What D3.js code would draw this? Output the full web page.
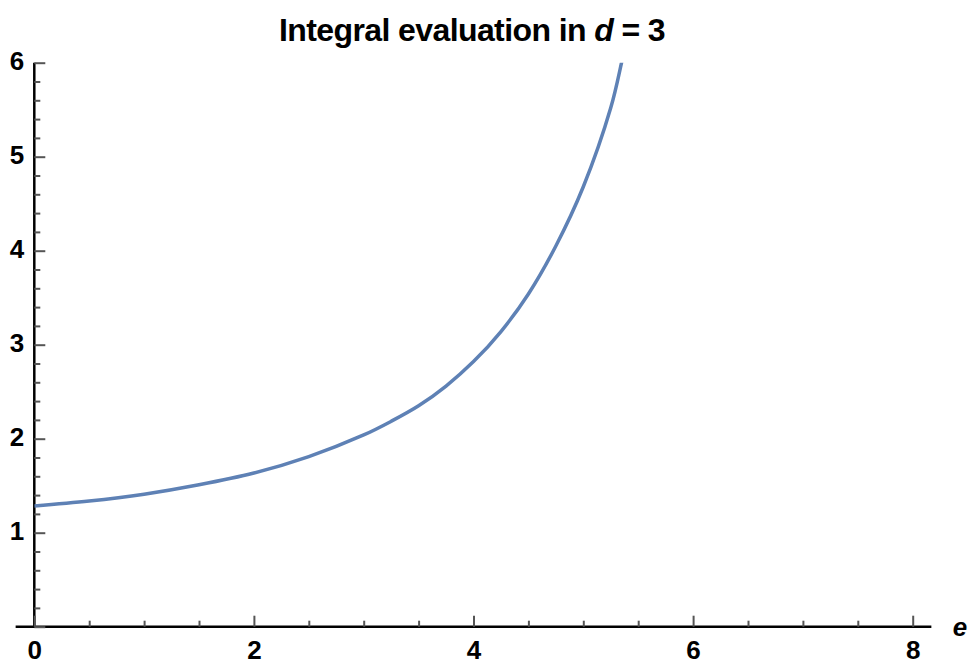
<!DOCTYPE html>
<html lang="en">
<meta charset="utf-8">
<title>Integral evaluation</title>
<script src="https://d3js.org/d3.v7.min.js"></script>
<body>
<div id="chart"></div>
</body>
<style>
body {
  margin: 0;
  background-color: white;
}
.lbl {
  font-family: "Liberation Sans", Arial, sans-serif;
  font-weight: bold;
  fill: black;
}
</style>
<script>
    // values
    let eValues = [0, 0.5, 1, 1.5, 2, 2.5, 3, 3.25, 3.5, 3.75, 4, 4.25, 4.5, 4.75, 5, 5.25, 5.35, 5.42]
    let integralValues = [1.285, 1.337, 1.41, 1.51, 1.635, 1.81, 2.04, 2.185, 2.35, 2.56, 2.82, 3.14, 3.54, 4.05, 4.68, 5.52, 6.01, 6.40]

    let xMajor = [0, 2, 4, 6, 8]
    let xMinor = [0.5, 1, 1.5, 2.5, 3, 3.5, 4.5, 5, 5.5, 6.5, 7, 7.5]
    let yMajor = [0, 1, 2, 3, 4, 5, 6]
    let yMinor = [0.2, 0.4, 0.6, 0.8, 1.2, 1.4, 1.6, 1.8, 2.2, 2.4, 2.6, 2.8, 3.2, 3.4, 3.6, 3.8,
                  4.2, 4.4, 4.6, 4.8, 5.2, 5.4, 5.6, 5.8]

    let W = 971, H = 667

    let svg = d3.select("#chart")
      .append("svg")
        .attr("width", W)
        .attr("height", H)

    let x = d3.scaleLinear()
      .domain([0, 8])
      .range([34.3, 912.7])

    let y = d3.scaleLinear()
      .domain([0, 6])
      .range([626.7, 62.7])

    // title
    let title = svg.append("text")
      .attr("class", "lbl")
      .attr("x", 472)
      .attr("y", 41)
      .attr("text-anchor", "middle")
      .style("font-size", "32px")
      .style("letter-spacing", "-0.6px")
    title.append("tspan").text("Integral evaluation in ")
    title.append("tspan").style("font-style", "italic").text("d")
    title.append("tspan").text(" = 3")

    // axis lines
    svg.append("line")
      .attr("x1", x(-0.17)).attr("x2", x(8.17))
      .attr("y1", y(0)).attr("y2", y(0))
      .attr("stroke", "black").attr("stroke-width", 2.5)

    svg.append("line")
      .attr("x1", x(0)).attr("x2", x(0))
      .attr("y1", y(-0.015)).attr("y2", y(6))
      .attr("stroke", "black").attr("stroke-width", 2.5)

    // minor ticks
    svg.append("g")
      .attr("transform", "translate(0," + y(0) + ")")
      .call(d3.axisBottom(x).tickValues(xMinor).tickSize(-6).tickFormat(""))
      .call(g => g.select(".domain").remove())
      .call(g => g.selectAll("line").attr("stroke", "#555").attr("stroke-width", 2))

    svg.append("g")
      .attr("transform", "translate(" + x(0) + ",0)")
      .call(d3.axisLeft(y).tickValues(yMinor).tickSize(-6).tickFormat(""))
      .call(g => g.select(".domain").remove())
      .call(g => g.selectAll("line").attr("stroke", "#555").attr("stroke-width", 2))

    // major ticks with labels
    svg.append("g")
      .attr("transform", "translate(0," + y(0) + ")")
      .call(d3.axisBottom(x).tickValues(xMajor).tickSize(-11).tickPadding(14).tickFormat(d3.format("d")))
      .call(g => g.select(".domain").remove())
      .call(g => g.selectAll("line").attr("stroke", "#555").attr("stroke-width", 2))
      .call(g => g.selectAll("text").attr("class", "lbl").style("font-size", "26px").attr("font-family", null))

    svg.append("g")
      .attr("transform", "translate(" + x(0) + ",0)")
      .call(d3.axisLeft(y).tickValues(yMajor).tickSize(-11).tickPadding(10)
        .tickFormat(d => d === 0 ? "" : d3.format("d")(d)))
      .call(g => g.select(".domain").remove())
      .call(g => g.selectAll("line").attr("stroke", "#555").attr("stroke-width", 2))
      .call(g => g.selectAll("text").attr("class", "lbl").style("font-size", "26px").attr("font-family", null).attr("dy", "0.26em"))

    // axis label
    svg.append("text")
      .attr("class", "lbl")
      .attr("x", 960)
      .attr("y", 636)
      .attr("text-anchor", "middle")
      .style("font-size", "26px")
      .style("font-style", "italic")
      .text("e")

    // clip curve to plot range
    svg.append("clipPath")
      .attr("id", "clip")
      .append("rect")
        .attr("x", x(0)).attr("y", y(6))
        .attr("width", x(8.17) - x(0)).attr("height", y(0) - y(6))

    let line = d3.line()
      .x(d => x(d[0]))
      .y(d => y(d[1]))
      .curve(d3.curveCatmullRom)

    svg.append("path")
      .datum(d3.zip(eValues, integralValues))
      .attr("clip-path", "url(#clip)")
      .attr("fill", "none")
      .attr("stroke", "#5E81B5")
      .attr("stroke-width", 3.5)
      .attr("d", line)
</script>
</html>
